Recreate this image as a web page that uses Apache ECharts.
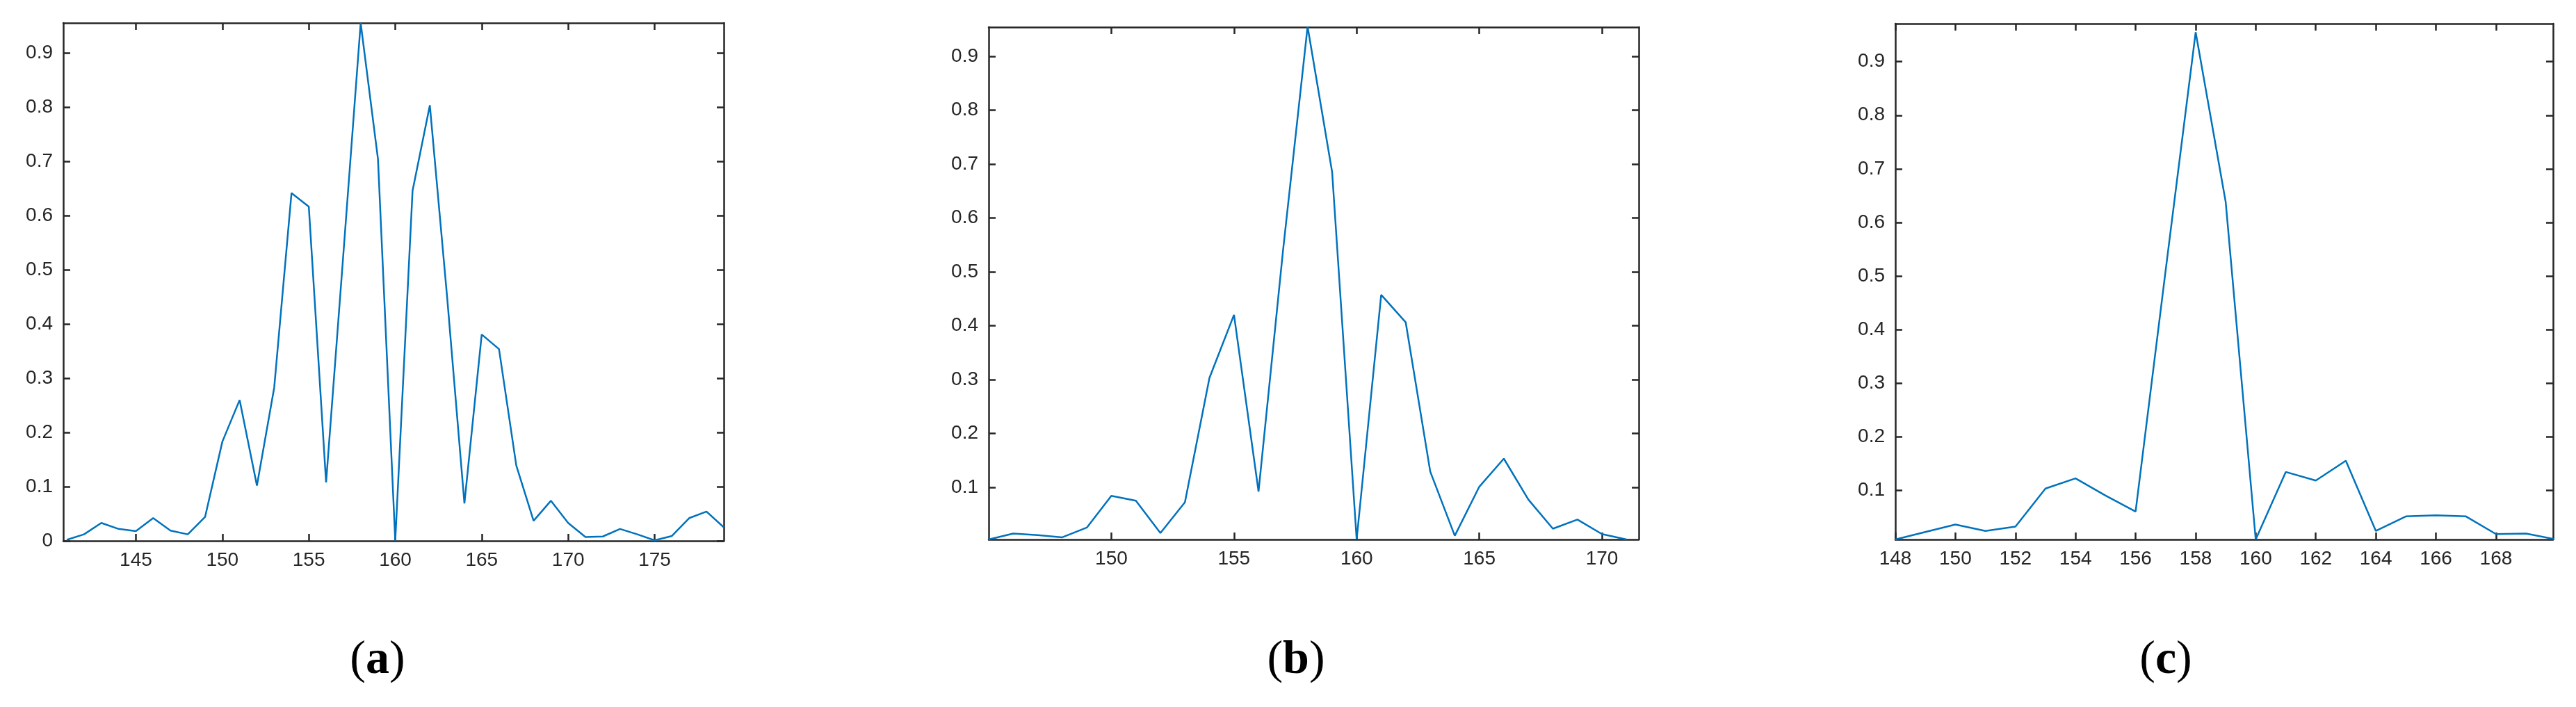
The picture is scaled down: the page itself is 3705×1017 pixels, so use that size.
<!DOCTYPE html>
<html><head><meta charset="utf-8">
<script src="https://cdn.jsdelivr.net/npm/echarts@6/dist/echarts.min.js"></script>
<style>html,body{margin:0;padding:0;background:#fff}#c{width:3705px;height:1017px}</style>
</head><body><div id="c"></div>
<script>
const xA = [141,142,143,144,145,146,147,148,149,150,151,152,153,154,155,156,157,158,159,160,161,162,163,164,165,166,167,168,169,170,171,172,173,174,175,176,177,178,179];
const yA = [0.002,0.012,0.033,0.022,0.018,0.042,0.019,0.012,0.044,0.183,0.26,0.102,0.283,0.642,0.617,0.108,0.53,0.956,0.705,0.0,0.646,0.804,0.45,0.069,0.381,0.354,0.139,0.037,0.074,0.033,0.007,0.008,0.022,0.012,0.001,0.009,0.042,0.054,0.025];
const xB = [145,146,147,148,149,150,151,152,153,154,155,156,157,158,159,160,161,162,163,164,165,166,167,168,169,170,171];
const yB = [0.003,0.014,0.011,0.007,0.025,0.084,0.075,0.015,0.072,0.303,0.42,0.092,0.54,0.955,0.685,0.003,0.457,0.406,0.129,0.01,0.101,0.153,0.077,0.023,0.04,0.013,0.003];
const xC = [148,149,150,151,152,153,154,155,156,157,158,159,160,161,162,163,164,165,166,167,168,169,170];
const yC = [0.008,0.022,0.036,0.024,0.032,0.103,0.122,0.09,0.06,0.51,0.955,0.638,0.008,0.134,0.118,0.155,0.024,0.051,0.053,0.051,0.018,0.019,0.008];
const ticksXA = [145,150,155,160,165,170,175];
const ticksXB = [150,155,160,165,170];
const ticksXC = [148,150,152,154,156,158,160,162,164,166,168];
const ticksYA = [0,0.1,0.2,0.3,0.4,0.5,0.6,0.7,0.8,0.9];
const ticksYBC = [0.1,0.2,0.3,0.4,0.5,0.6,0.7,0.8,0.9];
const panelLabels = ['a','b','c'];

const chart = echarts.init(document.getElementById('c'));
const axCol = '#262626';
const lab = {color: axCol, fontFamily: 'Liberation Sans', fontSize: 28};
const grids = [
  {left: 91, width: 950, top: 33, height: 745},
  {left: 1422, width: 935, top: 39, height: 737},
  {left: 2726, width: 946, top: 34, height: 742}
];
const xr = [[140.8,179],[145,171.5],[148,169.9]];
const yr = [[0,0.956],[0.003,0.954],[0.008,0.971]];
const xt = [ticksXA, ticksXB, ticksXC];
const yt = [ticksYA, ticksYBC, ticksYBC];
const xAxis = [], yAxis = [], series = [];
const data = [[xA,yA],[xB,yB],[xC,yC]];
for (let i = 0; i < 3; i++) {
  const base = {gridIndex: i, type: 'value', scale: true, splitLine: {show: false},
    axisLine: {show: true, onZero: false, lineStyle: {color: axCol, width: 2.5}}};
  xAxis.push(Object.assign({}, base, {position: 'bottom', min: xr[i][0], max: xr[i][1],
    axisTick: {inside: true, length: 10, lineStyle: {width: 2.5, color: axCol}, customValues: xt[i]},
    axisLabel: Object.assign({margin: 14, customValues: xt[i], formatter: v => String(v)}, lab)}));
  xAxis.push(Object.assign({}, base, {position: 'top', min: xr[i][0], max: xr[i][1],
    axisTick: {inside: true, length: 10, lineStyle: {width: 2.5, color: axCol}, customValues: xt[i]},
    axisLabel: {show: false}}));
  yAxis.push(Object.assign({}, base, {position: 'left', min: yr[i][0], max: yr[i][1],
    axisTick: {inside: true, length: 10, lineStyle: {width: 2.5, color: axCol}, customValues: yt[i]},
    axisLabel: Object.assign({margin: 15, customValues: yt[i], formatter: v => String(+v.toFixed(1))}, lab)}));
  yAxis.push(Object.assign({}, base, {position: 'right', min: yr[i][0], max: yr[i][1],
    axisTick: {inside: true, length: 10, lineStyle: {width: 2.5, color: axCol}, customValues: yt[i]},
    axisLabel: {show: false}}));
  series.push({type: 'line', xAxisIndex: 2*i, yAxisIndex: 2*i, showSymbol: false, symbol: 'none',
    lineStyle: {color: '#0072BD', width: 2.5}, animation: false,
    data: data[i][0].map((x, k) => [x, data[i][1][k]])});
}
const labelX = [543, 1864, 3115];
const graphic = panelLabels.map((t, i) => ({
  type: 'text', x: labelX[i], y: 950,
  style: {text: '{n|(}{b|' + t + '}{n|)}', align: 'center', verticalAlign: 'middle',
    rich: {n: {fontFamily: 'Liberation Serif', fontSize: 68, fill: '#000'},
           b: {fontFamily: 'Liberation Serif', fontSize: 68, fontWeight: 'bold', fill: '#000'}}}
}));
chart.setOption({animation: false, grid: grids, xAxis, yAxis, series, graphic});
</script></body></html>
